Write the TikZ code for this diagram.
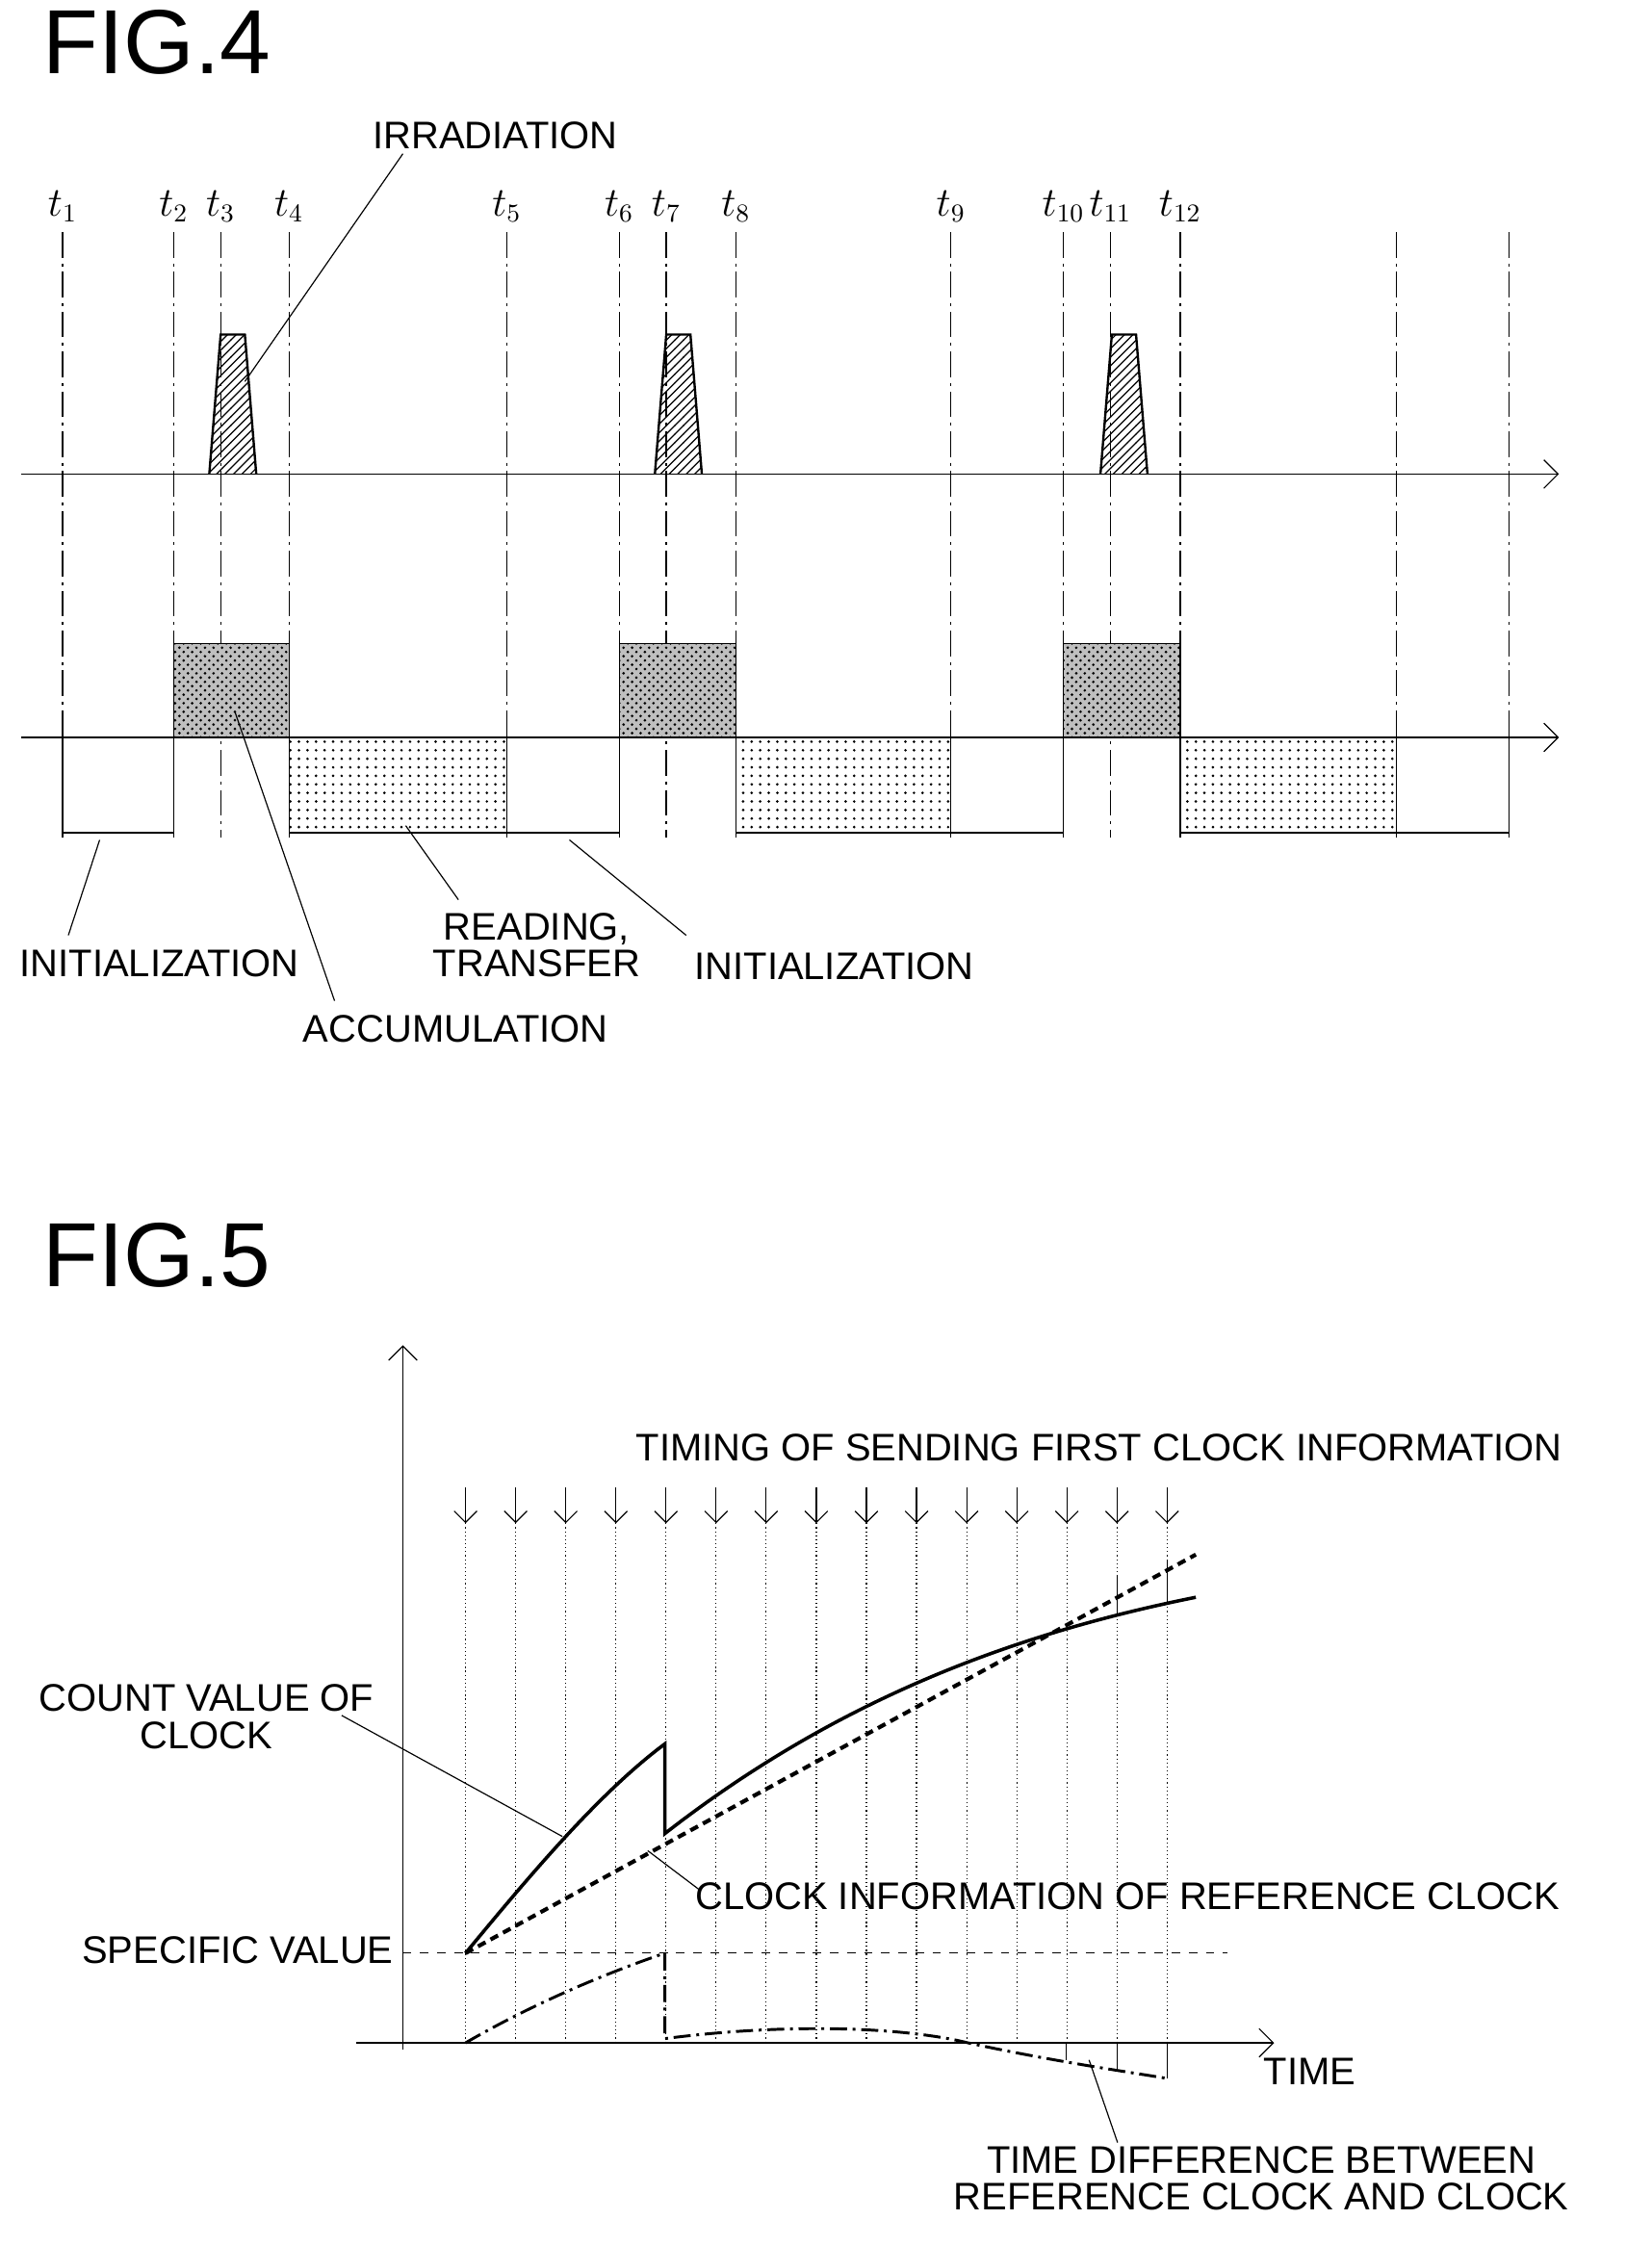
\documentclass[tikz,border=0pt]{standalone}
\usepackage{fontspec}
\setmainfont{Liberation Sans}
\usetikzlibrary{patterns,arrows.meta}
\begin{document}
\begin{tikzpicture}[x=0.5pt,y=-0.5pt,
    lbl/.style={font=\fontsize{13.5}{15}\selectfont, align=center},
    fig/.style={font=\fontsize{32}{34}\selectfont},
    tick/.style={dash pattern=on 9pt off 2pt on 1pt off 2pt, thin},
    axis/.style={-{Straight Barb[length=5pt]}, thin},
    lead/.style={thin}]
    \useasboundingbox (0,0) rectangle (1160,1577);
    % FIG. 4
    \node[fig] (f4) at (110,30) {FIG.4};
    \foreach \x/\n in {44/1,122/2,155/3,203/4,356/5,435/6,468/7,517/8,668/9,747/10,780/11,829/12}
        \node[lbl] (t\n) at (\x,145) {$t_{\n}$};
    \foreach \x in {44,122,155,203,356,435,468,517,668,747,780,829,981,1060}
        \draw[tick] (\x,163) -- (\x,588);
    % irradiation pulses
    \foreach \x in {147,460,773}
        \draw[pattern=north east lines, thick] (\x,333) -- (\x+8,235) -- (\x+25,235) -- (\x+33,333);
    \draw[axis] (15,333) -- (1095,333);
    % sensor states
    \foreach \a/\b in {122/203,435/517,747/829}{
        \fill[black!25] (\a,518) rectangle (\b,452);
        \draw[pattern=crosshatch dots, pattern color=black] (\a,518) rectangle (\b,452);
    }
    \foreach \a/\b in {203/356,517/668,829/981}
        \draw[pattern=dots] (\a,518) rectangle (\b,585);
    \foreach \a/\b in {44/122,356/435,668/747,981/1060}
        \draw (\a,518) rectangle (\b,585);
    \draw[axis] (15,518) -- (1095,518);
    \node[lbl] (irr) at (348,95) {IRRADIATION};
    \node[lbl] (ini1) at (112,677) {INITIALIZATION};
    \node[lbl] (acc) at (320,723) {ACCUMULATION};
    \node[lbl] (rdt) at (377,664) {READING,\\[-2pt]TRANSFER};
    \node[lbl] (ini2) at (586,679) {INITIALIZATION};
    \coordinate (p1) at (172,268);
    \coordinate (p2) at (70,590);
    \coordinate (p3) at (165,500);
    \coordinate (p4) at (285,580);
    \coordinate (p5) at (400,590);
    \draw[lead] (283,108) -- (p1);
    \draw[lead] (48,657) -- (p2);
    \draw[lead] (235,703) -- (p3);
    \draw[lead] (322,632) -- (p4);
    \draw[lead] (482,657) -- (p5);
    % FIG. 5
    \node[fig] (f5) at (110,882) {FIG.5};
    \draw[axis] (283,1440) -- (283,945);
    \draw[axis] (250,1435) -- (895,1435);
    \draw[dashed, thin] (283,1372) -- (862,1372);
    \foreach \i in {0,...,14}{
        \draw[-{Straight Barb[length=4pt]}, thin] (327+35.2*\i,1045) -- (327+35.2*\i,1070);
        \draw[densely dotted, thin] (327+35.2*\i,1070) -- (327+35.2*\i,1435);
    }
    % reference clock
    \draw[densely dashed, line width=1.4pt] (327,1372) -- (840,1092);
    % count value of clock
    \draw[line width=1.2pt] (327,1372) .. controls (370,1320) and (420,1260) .. (467,1225)
        -- (467,1288) .. controls (580,1200) and (700,1150) .. (840,1122);
    \draw[thin] (785,1106) -- (785,1134);
    \draw[thin] (820,1096) -- (820,1126);
    % time difference
    \draw[line width=1pt, dash pattern=on 6pt off 2pt on 1pt off 2pt] (327,1435) .. controls (370,1410) and (420,1388) .. (467,1372)
        -- (467,1432) .. controls (560,1420) and (640,1425) .. (680,1435) .. controls (740,1448) and (790,1455) .. (820,1460);
    \foreach \x/\y in {749/1447,785/1453,820/1460}
        \draw[thin] (\x,1435) -- (\x,\y);
    \node[lbl] (tim) at (772,1017) {TIMING OF SENDING FIRST CLOCK INFORMATION};
    \node[lbl] (cnt) at (145,1206) {COUNT VALUE OF\\[-2pt]CLOCK};
    \node[lbl] (ref) at (792,1332) {CLOCK INFORMATION OF REFERENCE CLOCK};
    \node[lbl] (spc) at (167,1370) {SPECIFIC VALUE};
    \node[lbl] (tme) at (920,1455) {TIME};
    \node[lbl] (dif) at (886,1530) {TIME DIFFERENCE BETWEEN\\[-2pt]REFERENCE CLOCK AND CLOCK};
    \coordinate (q1) at (395,1290);
    \coordinate (q2) at (455,1300);
    \coordinate (q3) at (765,1447);
    \draw[lead] (240,1205) -- (q1);
    \draw[lead] (492,1328) -- (q2);
    \draw[lead] (785,1505) -- (q3);
\end{tikzpicture}
\end{document}
